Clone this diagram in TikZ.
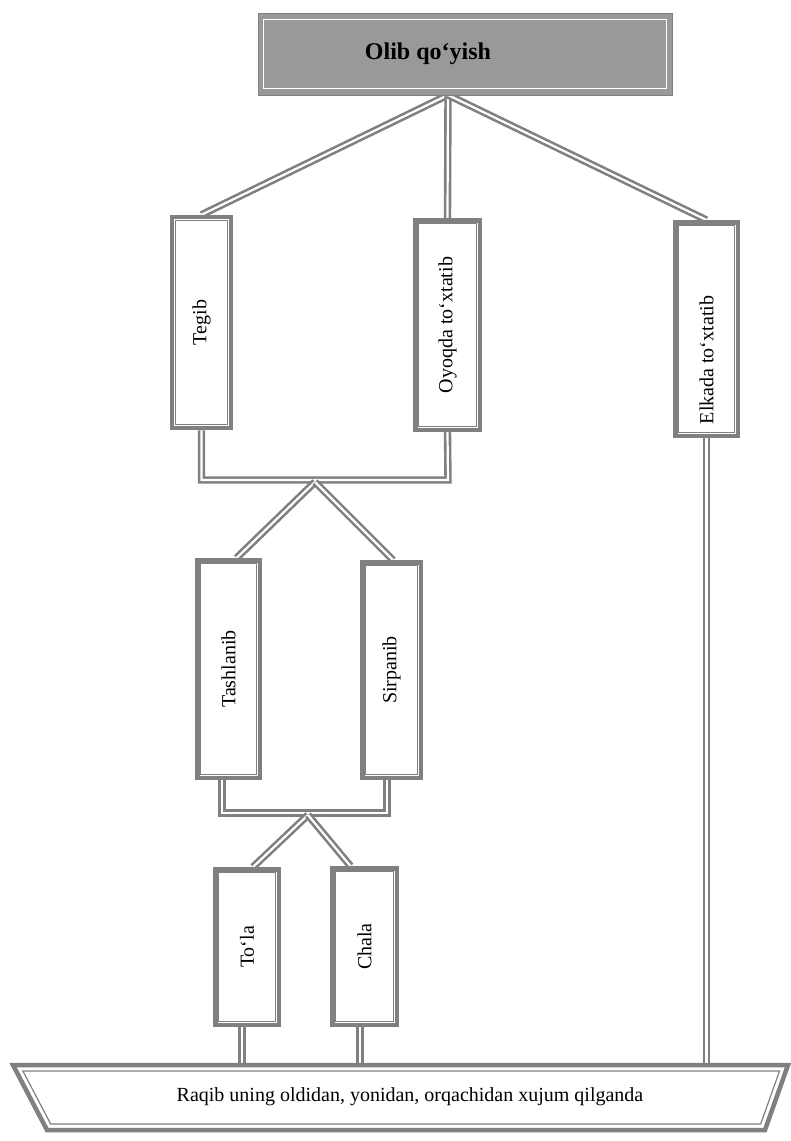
\documentclass[tikz,border=0pt]{standalone}
\usepackage{fontspec}
\setmainfont{Liberation Serif}
\usetikzlibrary{calc,backgrounds}
\begin{document}
\begin{tikzpicture}[x=1pt,y=-1pt,
  vbox/.style={draw=black!50, line width=4.5pt, fill=white, inner sep=0pt,
    font=\fontsize{20}{24}\selectfont},
  innerline/.style={draw=black!50, line width=1.2pt},
  conn/.style={draw=black!50, line width=2.6pt, double=white, double distance=2.2pt},
]
\useasboundingbox (0,0) rectangle (791,1141);
% title
\node[draw=black!50, fill=black!40, line width=1pt, minimum width=414pt, minimum height=82pt,
  font=\fontsize{24}{28}\selectfont\bfseries] (top) at (465,54) {Olib qo‘yish\hspace*{74pt}};
\draw[white, line width=1.5pt] ([shift={(6,7)}]top.north west) rectangle ([shift={(-6,-7)}]top.south east);
% boxes
\node[vbox, minimum width=59pt, minimum height=211pt] (tegib) at (201.5,322.5) {\rotatebox{90}{Tegib}};
\node[vbox, minimum width=64.5pt, minimum height=209.5pt] (oyo) at (447.5,325) {\rotatebox{90}{Oyoqda to‘xtatib}};
\node[vbox, minimum width=62.5pt, minimum height=213.5pt] (elk) at (706.5,329) {\rotatebox{90}{Elkada to‘xtatib\hspace*{62pt}}};
\node[vbox, minimum width=62.5pt, minimum height=217.5pt] (tash) at (228.5,669) {\rotatebox{90}{Tashlanib}};
\node[vbox, minimum width=58.5pt, minimum height=215.5pt] (sirp) at (391.5,670) {\rotatebox{90}{Sirpanib}};
\node[vbox, minimum width=63.5pt, minimum height=155.5pt] (tola) at (247,947) {\rotatebox{90}{To‘la}};
\node[vbox, minimum width=64.5pt, minimum height=156.5pt] (chala) at (364.5,946.5) {\rotatebox{90}{Chala}};
\foreach \n in {tegib,oyo,elk,tash,sirp,tola,chala}
  \draw[innerline] ([shift={(5.5,5.5)}]\n.north west) rectangle ([shift={(-5.5,-5.5)}]\n.south east);
% base
\draw[draw=black!50, line width=4.5pt, fill=white] (13,1065) -- (788,1065) -- (765,1130) -- (47,1130) -- cycle;
\draw[innerline] (22.9,1071) -- (779.5,1071) -- (760.7,1124) -- (50.7,1124) -- cycle;
\node[font=\fontsize{20}{24}\selectfont] (base) at (410,1097) {Raqib uning oldidan, yonidan, orqachidan xujum qilganda};
% coordinates
\coordinate (hubA) at (448,95);
\coordinate (jL1) at (201.5,480);
\coordinate (jR1) at (448,480);
\coordinate (hubB) at (315,482);
\coordinate (jL2) at (222,813);
\coordinate (jR2) at (387,813);
\coordinate (hubC) at (308,815);
\coordinate (bT1) at (242,1065);
\coordinate (bT2) at (360,1065);
\coordinate (bT3) at (706.5,1065);
\begin{pgfonlayer}{background}
\draw[conn] (hubA) -- (tegib.north);
\draw[conn] (hubA) -- (oyo.north);
\draw[conn] (hubA) -- (elk.north);
\draw[conn] (tegib.south) -- (jL1) -- (jR1) -- (oyo.south);
\draw[conn] (hubB) -- ([xshift=8pt]tash.north);
\draw[conn] (hubB) -- ([xshift=1.5pt]sirp.north);
\draw[conn] (jL2 |- tash.south) -- (jL2) -- (jR2) -- (jR2 |- sirp.south);
\draw[conn] (hubC) -- ([xshift=6pt]tola.north);
\draw[conn] (hubC) -- ([xshift=-14pt]chala.north);
\draw[conn] ([xshift=-5pt]tola.south) -- (bT1);
\draw[conn] ([xshift=-4.5pt]chala.south) -- (bT2);
\draw[conn] (elk.south) -- (bT3);
\end{pgfonlayer}
\end{tikzpicture}
\end{document}
